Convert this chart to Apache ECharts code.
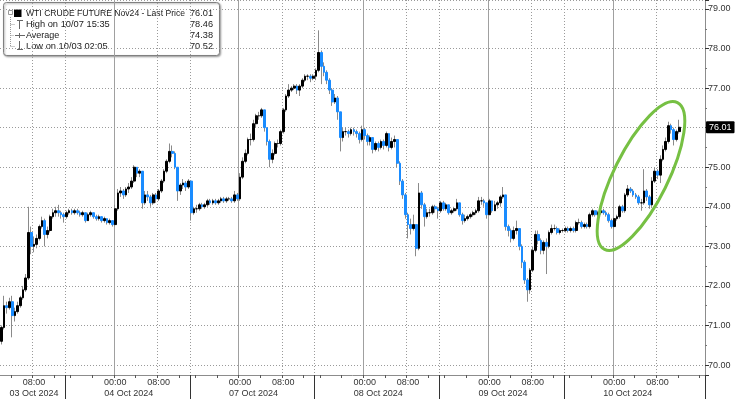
<!DOCTYPE html>
<html><head><meta charset="utf-8">
<script src="https://cdn.jsdelivr.net/npm/echarts@6/dist/echarts.min.js"></script>
<style>html,body{margin:0;padding:0;background:#fff}#c{width:736px;height:399px}</style>
</head><body><div id="c"></div>
<script>
// ---- sessions (Pacific time, 30-minute bars) ----
const sessionDates = ['03 Oct 2024','04 Oct 2024','07 Oct 2024','08 Oct 2024','09 Oct 2024','10 Oct 2024'];
const sessionStartTimes = ['02:00','15:00','15:00','15:00','15:00','15:00'];
const sessionSlots = [24, 46, 46, 46, 46, 52];
const fullSessionSlots = 46;
const firstOpen = 70.60;

// ---- closes / highs / lows per session ----
const close03 = [70.95,71.50,71.45,71.60,71.25,71.35,71.50,71.70,71.90,72.20,73.35,73.00,73.05,73.20,73.50,73.65,73.30,73.40,73.75,73.85,73.90,73.85,73.80,73.75];
const high03  = [71.00,71.75,71.60,71.70,71.75,71.45,71.60,71.75,72.00,72.30,74.00,73.50,73.25,73.30,73.55,73.75,73.70,73.50,73.80,73.95,74.00,74.05,73.90,73.85];
const low03   = [70.52,70.90,71.30,71.40,70.70,71.10,71.30,71.45,71.65,71.85,72.15,72.80,72.85,72.95,73.15,73.45,73.00,73.20,73.35,73.70,73.75,73.75,73.70,73.60];

const close04 = [73.85,73.90,73.85,73.90,73.85,73.80,73.85,73.65,73.80,73.85,73.75,73.70,73.75,73.65,73.70,73.60,73.65,73.55,73.95,74.35,74.40,74.30,74.45,74.50,74.65,75.00,74.85,74.90,74.10,74.30,74.25,74.10,74.30,74.20,74.40,74.65,74.90,75.15,75.40,75.35,75.00,74.40,74.55,74.60,74.50,74.65];
const high04  = [73.90,73.95,73.95,73.95,73.95,73.90,73.90,73.85,73.85,73.90,73.85,73.80,73.80,73.75,73.75,73.70,73.70,73.65,74.05,74.45,74.50,74.45,74.50,74.60,74.75,75.05,75.00,74.95,74.90,74.40,74.40,74.30,74.35,74.35,74.45,74.70,74.95,75.20,75.60,75.55,75.40,75.00,74.60,74.70,74.65,74.70];
const low04   = [73.70,73.80,73.80,73.80,73.80,73.75,73.75,73.60,73.65,73.75,73.70,73.65,73.65,73.60,73.60,73.55,73.55,73.50,73.50,73.90,74.25,74.20,74.25,74.35,74.45,74.60,74.75,74.75,73.95,74.05,74.15,74.00,74.05,74.10,74.15,74.35,74.60,74.85,75.10,75.25,74.95,74.15,74.30,74.45,74.40,74.45];

const close07 = [73.85,73.95,73.95,74.05,74.00,74.05,74.15,74.10,74.15,74.10,74.15,74.20,74.15,74.20,74.20,74.15,74.30,74.20,74.75,75.15,75.35,75.70,75.70,76.10,76.30,76.30,76.45,76.00,75.65,75.20,75.35,75.60,75.60,75.90,76.45,76.80,76.95,77.00,77.05,76.95,77.05,77.20,77.30,77.30,77.25,77.30];
const high07  = [74.65,74.00,74.05,74.10,74.10,74.10,74.20,74.20,74.20,74.20,74.20,74.25,74.25,74.25,74.25,74.25,74.40,74.35,74.85,75.25,75.45,75.75,75.85,76.20,76.35,76.40,76.50,76.45,76.00,75.70,75.45,75.65,75.70,75.95,76.50,76.85,77.10,77.05,77.10,77.10,77.10,77.25,77.35,77.35,77.35,77.35];
const low07   = [73.65,73.80,73.85,73.90,73.95,73.95,74.00,74.05,74.05,74.05,74.05,74.10,74.10,74.10,74.15,74.10,74.10,74.15,74.15,74.70,75.10,75.30,75.55,75.65,76.00,76.20,76.25,75.90,75.55,75.00,75.10,75.30,75.50,75.55,75.85,76.40,76.75,76.90,76.95,76.85,76.80,77.00,77.15,77.20,77.15,77.20];

const close08 = [77.45,77.90,77.55,77.40,77.20,76.95,76.65,76.75,76.40,75.75,75.90,75.90,75.85,75.95,75.90,75.85,75.70,75.95,75.80,75.65,75.75,75.45,75.60,75.50,75.65,75.55,75.85,75.50,75.65,75.70,75.10,74.65,74.30,73.80,73.55,73.45,73.55,72.95,74.35,74.05,73.75,73.85,73.85,74.00,73.95,73.90];
const high08  = [77.50,78.46,77.95,77.65,77.45,77.25,77.00,76.85,76.80,76.40,76.00,76.00,75.95,76.00,76.00,75.95,75.90,76.05,76.00,75.85,75.80,75.75,75.65,75.65,75.70,75.70,75.90,75.85,75.75,75.80,75.70,75.15,74.70,74.35,73.85,73.70,73.80,73.55,74.60,74.40,74.10,73.95,73.95,74.05,74.05,74.00];
const low08   = [77.20,77.40,77.10,77.30,77.10,76.85,76.55,76.60,76.20,75.40,75.65,75.80,75.75,75.80,75.80,75.75,75.60,75.65,75.70,75.55,75.55,75.35,75.40,75.40,75.45,75.45,75.50,75.40,75.45,75.50,75.00,74.55,74.20,73.70,73.20,73.30,73.40,72.75,72.90,73.95,73.50,73.70,73.75,73.80,73.85,73.70];

const close09 = [74.10,73.95,74.05,73.85,73.90,73.95,74.10,73.80,73.65,73.70,73.75,73.80,73.85,73.90,74.15,74.15,74.10,73.80,74.15,73.90,74.05,74.10,74.25,74.30,73.50,73.40,73.20,73.40,73.45,73.00,72.60,72.15,71.90,72.40,72.90,73.30,73.15,72.90,73.10,73.00,73.35,73.45,73.45,73.35,73.40,73.40];
const high09  = [74.15,74.15,74.10,74.05,73.95,74.00,74.20,74.10,73.85,73.80,73.80,73.85,73.90,73.95,74.25,74.25,74.20,74.10,74.20,74.15,74.15,74.15,74.30,74.50,74.30,73.55,73.45,73.50,73.65,73.45,73.05,72.65,72.20,72.45,73.00,73.40,73.40,73.20,73.15,73.20,73.40,73.55,73.55,73.50,73.45,73.45];
const low09   = [73.85,73.90,73.90,73.80,73.80,73.85,73.90,73.75,73.55,73.60,73.65,73.70,73.75,73.80,73.85,74.05,74.00,73.70,73.80,73.85,73.90,73.95,74.00,74.20,73.40,73.25,73.10,73.15,73.30,72.90,72.45,72.05,71.60,71.80,72.35,72.85,73.05,72.80,72.80,72.30,72.95,73.30,73.40,73.30,73.30,73.35];

const close10 = [73.45,73.40,73.45,73.40,73.60,73.60,73.50,73.55,73.50,73.80,73.90,73.80,73.85,73.90,73.85,73.80,73.65,73.50,73.70,73.75,74.00,73.90,74.30,74.45,74.40,74.30,74.25,74.10,74.10,74.40,74.25,74.05,74.65,74.90,74.80,75.20,75.45,75.65,76.05,75.95,75.70,75.90,76.01];
const high10  = [73.50,73.50,73.50,73.50,73.65,73.70,73.65,73.60,73.60,73.85,73.95,73.90,73.90,73.95,73.95,73.90,73.85,73.70,73.75,73.80,74.05,74.05,74.35,74.55,74.50,74.45,74.35,74.30,74.20,74.95,74.45,74.30,74.75,75.00,74.95,75.30,75.55,75.75,76.15,76.10,76.00,75.95,76.20];
const low10   = [73.35,73.35,73.35,73.35,73.35,73.55,73.45,73.45,73.45,73.45,73.75,73.75,73.75,73.80,73.80,73.75,73.60,73.45,73.45,73.65,73.70,73.85,73.85,74.25,74.35,74.25,74.20,74.05,73.90,74.05,74.15,73.95,74.00,74.60,74.70,74.60,75.15,75.40,75.60,75.85,75.55,75.65,75.85];

// ---- legend texts ----
const legendLabels = ['WTI CRUDE FUTURE Nov24 - Last Price', 'High on 10/07 15:35', 'Average', 'Low on 10/03 02:05'];
const legendValues = ['76.01', '78.46', '74.38', '70.52'];
const timeLabels = ['00:00', '08:00'];

// ---- build ----
const closes = [].concat(close03, close04, close07, close08, close09, close10);
const highs  = [].concat(high03, high04, high07, high08, high09, high10);
const lows   = [].concat(low03, low04, low07, low08, low09, low10);
const ohlc = closes.map((c, i) => [i === 0 ? firstOpen : closes[i - 1], c, lows[i], highs[i]]);
const bodies = ohlc.map(d => [d[0], d[1], Math.min(d[0], d[1]), Math.max(d[0], d[1])]);

const pad = n => (n < 10 ? '0' : '') + n;
const times = [], isSessionStart = [], dateAt = {};
sessionDates.forEach((d, s) => {
  const [hh, mm] = sessionStartTimes[s].split(':').map(Number);
  const m0 = hh * 60 + mm;
  const startIdx = times.length;
  for (let j = 0; j < sessionSlots[s]; j++) {
    const t = (m0 + 30 * j) % 1440;
    times.push(pad(Math.floor(t / 60)) + ':' + pad(t % 60));
    isSessionStart.push(j === 0 && s > 0);
  }
  const len = Math.min(sessionSlots[s], fullSessionSlots);
  dateAt[startIdx + Math.floor(len / 2)] = d;
});
const categories = times.map((t, i) => i + ' ' + t);
const lastClose = closes[closes.length - 1];

const FONT = 'Liberation Sans';
const gridLineDot = { color: '#9a9a9a', width: 1, type: [1, 2] };

const chart = echarts.init(document.getElementById('c'), null, { renderer: 'canvas' });

const legendChildren = [
  { type: 'rect', shape: { x: 3.5, y: 2.5, width: 216, height: 53, r: 3 },
    style: { fill: '#fff', stroke: '#808080', lineWidth: 1, shadowBlur: 2, shadowOffsetX: 1, shadowOffsetY: 1, shadowColor: 'rgba(0,0,0,0.35)' } },
  { type: 'rect', shape: { x: 8.5, y: 10.5, width: 4, height: 4 }, style: { fill: '#fff', stroke: '#999', lineWidth: 1 } },
  { type: 'rect', shape: { x: 14, y: 9.5, width: 7.5, height: 7.5 }, style: { fill: '#000' } },
  { type: 'line', shape: { x1: 10.5, y1: 17, x2: 10.5, y2: 46.5 }, style: { stroke: '#9a9a9a', lineWidth: 1, lineDash: [1, 1] } },
  { type: 'line', shape: { x1: 10.5, y1: 24.5, x2: 15, y2: 24.5 }, style: { stroke: '#9a9a9a', lineWidth: 1, lineDash: [1, 1] } },
  { type: 'line', shape: { x1: 10.5, y1: 35.5, x2: 14, y2: 35.5 }, style: { stroke: '#9a9a9a', lineWidth: 1, lineDash: [1, 1] } },
  { type: 'line', shape: { x1: 10.5, y1: 46.5, x2: 15, y2: 46.5 }, style: { stroke: '#9a9a9a', lineWidth: 1, lineDash: [1, 1] } },
  { type: 'line', shape: { x1: 17, y1: 20.5, x2: 23, y2: 20.5 }, style: { stroke: '#666', lineWidth: 1 } },
  { type: 'line', shape: { x1: 19.5, y1: 20.5, x2: 19.5, y2: 29 }, style: { stroke: '#666', lineWidth: 1 } },
  { type: 'line', shape: { x1: 15, y1: 35.5, x2: 25, y2: 35.5 }, style: { stroke: '#666', lineWidth: 1 } },
  { type: 'line', shape: { x1: 19.5, y1: 33, x2: 19.5, y2: 38 }, style: { stroke: '#666', lineWidth: 1 } },
  { type: 'line', shape: { x1: 19.5, y1: 41, x2: 19.5, y2: 49.5 }, style: { stroke: '#666', lineWidth: 1 } },
  { type: 'line', shape: { x1: 17, y1: 49.5, x2: 23, y2: 49.5 }, style: { stroke: '#666', lineWidth: 1 } }
];
const rowY = [13.5, 24.5, 35.5, 46];
const rowFont = [8.6, 9.3, 9.0, 9.3];
legendLabels.forEach((t, i) => {
  legendChildren.push({ type: 'text', x: 26, y: rowY[i], style: { text: t, fill: '#1a1a1a', fontSize: rowFont[i], fontFamily: FONT, align: 'left', verticalAlign: 'middle' } });
  legendChildren.push({ type: 'text', x: 213, y: rowY[i], style: { text: legendValues[i], fill: '#1a1a1a', fontSize: 9.2, fontFamily: FONT, align: 'right', verticalAlign: 'middle' } });
});

chart.setOption({
  animation: false,
  backgroundColor: '#fff',
  grid: { left: 0, right: 31, top: -1, bottom: 24, containLabel: false },
  xAxis: [
    { type: 'category', data: categories, position: 'bottom', boundaryGap: true,
      axisLine: { show: true, onZero: false, lineStyle: { color: '#8c8c8c' } },
      axisTick: { show: true, length: 3, interval: i => /^(00|04|08|12|16|20):00$/.test(times[i]), lineStyle: { color: '#555' } },
      axisLabel: { show: true, interval: i => timeLabels.indexOf(times[i]) >= 0, formatter: (v, i) => times[i],
        margin: 3, fontSize: 9, fontFamily: FONT, color: '#333' },
      splitLine: { show: true, interval: i => times[i] === '08:00' || isSessionStart[i], lineStyle: gridLineDot } },
    { type: 'category', data: categories, position: 'bottom', boundaryGap: true,
      axisLine: { show: false, onZero: false }, axisTick: { show: false }, axisLabel: { show: false },
      splitLine: { show: true, interval: i => times[i] === '00:00', lineStyle: { color: '#a0a0a0', width: 1 } } },
    { type: 'category', data: categories, position: 'bottom', boundaryGap: true,
      axisLine: { show: false, onZero: false },
      axisTick: { show: true, length: 24, interval: i => isSessionStart[i], lineStyle: { color: '#333', width: 1 } },
      axisLabel: { show: true, interval: i => dateAt[i] !== undefined, formatter: (v, i) => dateAt[i] || '',
        margin: 14, fontSize: 9, fontFamily: FONT, color: '#333' },
      splitLine: { show: false } }
  ],
  yAxis: {
    type: 'value', position: 'right', min: 69.748, max: 79.227, splitNumber: 9, scale: true,
    axisLine: { show: true, lineStyle: { color: '#8c8c8c' } },
    axisTick: { show: true, length: 4, lineStyle: { color: '#333' } },
    minorTick: { show: true, splitNumber: 2, length: 2, lineStyle: { color: '#777' } },
    axisLabel: { show: true, showMinLabel: false, showMaxLabel: false, formatter: v => v.toFixed(2),
      margin: 3, fontSize: 9, fontFamily: FONT, color: '#333' },
    splitLine: { show: true, lineStyle: gridLineDot }
  },
  series: [
    { name: 'wick', type: 'candlestick', xAxisIndex: 0, data: ohlc, barWidth: 1, silent: true, z: 2,
      itemStyle: { color: '#8a8a8a', color0: '#8a8a8a', borderColor: '#8a8a8a', borderColor0: '#8a8a8a', borderWidth: 1 } },
    { name: 'body', type: 'candlestick', xAxisIndex: 0, data: bodies, barWidth: 2.2, silent: true, z: 3, clip: false,
      itemStyle: { color: '#000', color0: '#1a8cff', borderColor: '#000', borderColor0: '#1a8cff', borderWidth: 1 },
      markLine: { silent: true, symbol: ['none', 'none'], data: [{ yAxis: lastClose }], z: 10,
        lineStyle: { color: 'rgba(0,0,0,0)', width: 0, opacity: 1 },
        label: { show: true, position: 'end', distance: 1, opacity: 1, formatter: () => lastClose.toFixed(2),
          color: '#fff', backgroundColor: '#000', padding: [2, 3, 1, 3], fontSize: 9, fontFamily: FONT, borderRadius: 1 } } }
  ],
  graphic: [
    { type: 'group', children: legendChildren, z: 100 },
    { type: 'ellipse', x: 641, y: 176, rotation: 1.11, shape: { cx: 0, cy: 0, rx: 82, ry: 27 }, z: 90,
      style: { fill: 'none', stroke: '#76c043', lineWidth: 3 } }
  ]
});
</script></body></html>
